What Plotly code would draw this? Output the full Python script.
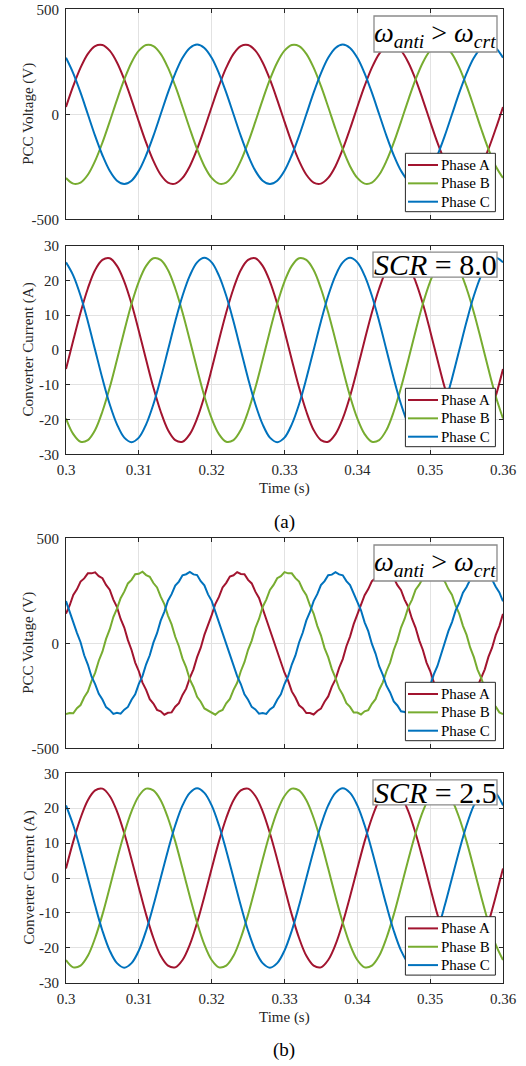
import plotly.graph_objects as go

# ---------------------------------------------------------------------------
# Data: three-phase waveforms between 0.30 s and 0.36 s
# ---------------------------------------------------------------------------
# 1 ms sampling grid (currents and the clean voltage of case a)
time_s = [
    0.300, 0.301, 0.302, 0.303, 0.304, 0.305, 0.306, 0.307, 0.308, 0.309,
    0.310, 0.311, 0.312, 0.313, 0.314, 0.315, 0.316, 0.317, 0.318, 0.319,
    0.320, 0.321, 0.322, 0.323, 0.324, 0.325, 0.326, 0.327, 0.328, 0.329,
    0.330, 0.331, 0.332, 0.333, 0.334, 0.335, 0.336, 0.337, 0.338, 0.339,
    0.340, 0.341, 0.342, 0.343, 0.344, 0.345, 0.346, 0.347, 0.348, 0.349,
    0.350, 0.351, 0.352, 0.353, 0.354, 0.355, 0.356, 0.357, 0.358, 0.359,
    0.360,
]
# 0.5 ms sampling grid (rippled voltage of case b)
time_fine_s = [
    0.3000, 0.3005, 0.3010, 0.3015, 0.3020, 0.3025, 0.3030, 0.3035, 0.3040, 0.3045,
    0.3050, 0.3055, 0.3060, 0.3065, 0.3070, 0.3075, 0.3080, 0.3085, 0.3090, 0.3095,
    0.3100, 0.3105, 0.3110, 0.3115, 0.3120, 0.3125, 0.3130, 0.3135, 0.3140, 0.3145,
    0.3150, 0.3155, 0.3160, 0.3165, 0.3170, 0.3175, 0.3180, 0.3185, 0.3190, 0.3195,
    0.3200, 0.3205, 0.3210, 0.3215, 0.3220, 0.3225, 0.3230, 0.3235, 0.3240, 0.3245,
    0.3250, 0.3255, 0.3260, 0.3265, 0.3270, 0.3275, 0.3280, 0.3285, 0.3290, 0.3295,
    0.3300, 0.3305, 0.3310, 0.3315, 0.3320, 0.3325, 0.3330, 0.3335, 0.3340, 0.3345,
    0.3350, 0.3355, 0.3360, 0.3365, 0.3370, 0.3375, 0.3380, 0.3385, 0.3390, 0.3395,
    0.3400, 0.3405, 0.3410, 0.3415, 0.3420, 0.3425, 0.3430, 0.3435, 0.3440, 0.3445,
    0.3450, 0.3455, 0.3460, 0.3465, 0.3470, 0.3475, 0.3480, 0.3485, 0.3490, 0.3495,
    0.3500, 0.3505, 0.3510, 0.3515, 0.3520, 0.3525, 0.3530, 0.3535, 0.3540, 0.3545,
    0.3550, 0.3555, 0.3560, 0.3565, 0.3570, 0.3575, 0.3580, 0.3585, 0.3590, 0.3595,
    0.3600,
]

# (a) PCC voltage, V
volt_a_phase_a = [
    35, 135, 222, 288, 325, 330, 303, 247, 166, 69, -35, -135, -222, -288, -325, -330, -303, -247, -166, -69,
    35, 135, 222, 288, 325, 330, 303, 247, 166, 69, -35, -135, -222, -288, -325, -330, -303, -247, -166, -69,
    35, 135, 222, 288, 325, 330, 303, 247, 166, 69, -35, -135, -222, -288, -325, -330, -303, -247, -166, -69,
    35,
]
volt_a_phase_b = [
    -303, -330, -325, -288, -222, -135, -35, 69, 166, 247, 303, 330, 325, 288, 222, 135, 35, -69, -166, -247,
    -303, -330, -325, -288, -222, -135, -35, 69, 166, 247, 303, 330, 325, 288, 222, 135, 35, -69, -166, -247,
    -303, -330, -325, -288, -222, -135, -35, 69, 166, 247, 303, 330, 325, 288, 222, 135, 35, -69, -166, -247,
    -303,
]
volt_a_phase_c = [
    269, 195, 103, 0, -103, -195, -269, -316, -332, -316, -269, -195, -103, 0, 103, 195, 269, 316, 332, 316,
    269, 195, 103, 0, -103, -195, -269, -316, -332, -316, -269, -195, -103, 0, 103, 195, 269, 316, 332, 316,
    269, 195, 103, 0, -103, -195, -269, -316, -332, -316, -269, -195, -103, 0, 103, 195, 269, 316, 332, 316,
    269,
]

# (a) converter current, A
curr_a_phase_a = [
    -5.5, 2.8, 10.8, 17.7, 23.0, 25.9, 26.4, 24.2, 19.7, 13.3, 5.5, -2.8, -10.8, -17.7, -23.0, -25.9, -26.4, -24.2, -19.7, -13.3,
    -5.5, 2.8, 10.8, 17.7, 23.0, 25.9, 26.4, 24.2, 19.7, 13.3, 5.5, -2.8, -10.8, -17.7, -23.0, -25.9, -26.4, -24.2, -19.7, -13.3,
    -5.5, 2.8, 10.8, 17.7, 23.0, 25.9, 26.4, 24.2, 19.7, 13.3, 5.5, -2.8, -10.8, -17.7, -23.0, -25.9, -26.4, -24.2, -19.7, -13.3,
    -5.5,
]
curr_a_phase_b = [
    -19.7, -24.2, -26.4, -25.9, -23.0, -17.7, -10.8, -2.8, 5.5, 13.3, 19.7, 24.2, 26.4, 25.9, 23.0, 17.7, 10.8, 2.8, -5.5, -13.3,
    -19.7, -24.2, -26.4, -25.9, -23.0, -17.7, -10.8, -2.8, 5.5, 13.3, 19.7, 24.2, 26.4, 25.9, 23.0, 17.7, 10.8, 2.8, -5.5, -13.3,
    -19.7, -24.2, -26.4, -25.9, -23.0, -17.7, -10.8, -2.8, 5.5, 13.3, 19.7, 24.2, 26.4, 25.9, 23.0, 17.7, 10.8, 2.8, -5.5, -13.3,
    -19.7,
]
curr_a_phase_c = [
    25.2, 21.4, 15.6, 8.2, 0.0, -8.2, -15.6, -21.4, -25.2, -26.5, -25.2, -21.4, -15.6, -8.2, 0.0, 8.2, 15.6, 21.4, 25.2, 26.5,
    25.2, 21.4, 15.6, 8.2, 0.0, -8.2, -15.6, -21.4, -25.2, -26.5, -25.2, -21.4, -15.6, -8.2, 0.0, 8.2, 15.6, 21.4, 25.2, 26.5,
    25.2, 21.4, 15.6, 8.2, 0.0, -8.2, -15.6, -21.4, -25.2, -26.5, -25.2, -21.4, -15.6, -8.2, 0.0, 8.2, 15.6, 21.4, 25.2, 26.5,
    25.2,
]

# (b) PCC voltage, V (carries a small switching ripple), on the 0.5 ms grid
volt_b_phase_a = [
    141, 180, 230, 257, 294, 309, 333, 333, 338, 320, 310, 278, 255, 208, 172, 116, 75, 15, -32, -92,
    -133, -187, -222, -266, -287, -317, -324, -340, -331, -329, -302, -285, -246, -216, -165, -124, -66, -21, 40, 83,
    134, 187, 221, 266, 288, 318, 324, 339, 330, 329, 302, 285, 246, 216, 165, 124, 66, 21, -40, -83,
    -140, -178, -229, -258, -295, -309, -332, -332, -339, -322, -311, -278, -253, -206, -172, -117, -75, -14, 32, 91,
    140, 179, 229, 258, 296, 310, 332, 331, 338, 322, 311, 277, 253, 207, 173, 117, 74, 14, -32, -92,
    -132, -186, -221, -265, -288, -319, -325, -339, -329, -329, -304, -287, -246, -214, -164, -124, -65, -21, 39, 82,
    140,
]
volt_b_phase_b = [
    -337, -332, -333, -309, -294, -257, -230, -180, -141, -83, -40, 21, 66, 125, 165, 215, 246, 285, 302, 329,
    331, 341, 325, 317, 287, 266, 222, 187, 132, 90, 31, -14, -73, -115, -172, -208, -255, -278, -310, -321,
    -331, -340, -325, -317, -286, -265, -222, -188, -133, -90, -31, 13, 73, 116, 173, 208, 254, 278, 310, 320,
    339, 333, 333, 310, 294, 256, 229, 180, 142, 83, 38, -23, -66, -123, -164, -215, -245, -285, -303, -330,
    -330, -339, -324, -318, -288, -266, -221, -186, -133, -92, -32, 14, 75, 117, 172, 207, 255, 279, 310, 320,
    338, 332, 332, 309, 295, 258, 230, 179, 140, 83, 40, -21, -66, -125, -165, -215, -246, -285, -302, -329,
    -337,
]
volt_b_phase_c = [
    201, 149, 108, 50, 5, -57, -101, -158, -194, -241, -268, -304, -317, -336, -331, -335, -316, -303, -269, -243,
    -193, -156, -100, -57, 3, 48, 108, 150, 203, 234, 275, 294, 324, 329, 340, 328, 325, 296, 276, 233,
    202, 150, 109, 49, 3, -58, -100, -156, -194, -243, -269, -303, -315, -335, -332, -336, -315, -302, -269, -243,
    -194, -157, -101, -58, 4, 50, 109, 149, 201, 234, 277, 296, 324, 327, 339, 328, 324, 296, 277, 234,
    195, 157, 100, 58, -3, -49, -109, -150, -202, -234, -277, -296, -324, -327, -339, -328, -324, -296, -277, -234,
    -201, -148, -108, -50, -4, 58, 101, 157, 193, 241, 268, 303, 317, 337, 332, 335, 315, 303, 269, 242,
    200,
]

# (b) converter current, A
curr_b_phase_a = [
    2.7, 10.5, 17.2, 22.3, 25.1, 25.6, 23.5, 19.1, 12.8, 5.3, -2.7, -10.5, -17.2, -22.3, -25.1, -25.6, -23.5, -19.1, -12.8, -5.3,
    2.7, 10.5, 17.2, 22.3, 25.1, 25.6, 23.5, 19.1, 12.8, 5.3, -2.7, -10.5, -17.2, -22.3, -25.1, -25.6, -23.5, -19.1, -12.8, -5.3,
    2.7, 10.5, 17.2, 22.3, 25.1, 25.6, 23.5, 19.1, 12.8, 5.3, -2.7, -10.5, -17.2, -22.3, -25.1, -25.6, -23.5, -19.1, -12.8, -5.3,
    2.7,
]
curr_b_phase_b = [
    -23.5, -25.6, -25.1, -22.3, -17.2, -10.5, -2.7, 5.3, 12.8, 19.1, 23.5, 25.6, 25.1, 22.3, 17.2, 10.5, 2.7, -5.3, -12.8, -19.1,
    -23.5, -25.6, -25.1, -22.3, -17.2, -10.5, -2.7, 5.3, 12.8, 19.1, 23.5, 25.6, 25.1, 22.3, 17.2, 10.5, 2.7, -5.3, -12.8, -19.1,
    -23.5, -25.6, -25.1, -22.3, -17.2, -10.5, -2.7, 5.3, 12.8, 19.1, 23.5, 25.6, 25.1, 22.3, 17.2, 10.5, 2.7, -5.3, -12.8, -19.1,
    -23.5,
]
curr_b_phase_c = [
    20.8, 15.1, 7.9, 0.0, -7.9, -15.1, -20.8, -24.4, -25.7, -24.4, -20.8, -15.1, -7.9, 0.0, 7.9, 15.1, 20.8, 24.4, 25.7, 24.4,
    20.8, 15.1, 7.9, 0.0, -7.9, -15.1, -20.8, -24.4, -25.7, -24.4, -20.8, -15.1, -7.9, 0.0, 7.9, 15.1, 20.8, 24.4, 25.7, 24.4,
    20.8, 15.1, 7.9, 0.0, -7.9, -15.1, -20.8, -24.4, -25.7, -24.4, -20.8, -15.1, -7.9, 0.0, 7.9, 15.1, 20.8, 24.4, 25.7, 24.4,
    20.8,
]

phase_names = ["Phase A", "Phase B", "Phase C"]

# Axis ticks
time_ticks = [0.30, 0.31, 0.32, 0.33, 0.34, 0.35, 0.36]
time_tick_text = ["0.3", "0.31", "0.32", "0.33", "0.34", "0.35", "0.36"]
volt_ticks = [-500, 0, 500]
volt_tick_text = ["-500", "0", "500"]
curr_ticks = [-30, -20, -10, 0, 10, 20, 30]
curr_tick_text = ["-30", "-20", "-10", "0", "10", "20", "30"]

# ---------------------------------------------------------------------------
# Styling
# ---------------------------------------------------------------------------
W, H = 526, 1066
FONT = "Liberation Serif, Times New Roman, serif"
INK = "#262626"
GRID = "#e2e2e2"
COLORS = ["#A2142F", "#77AC30", "#0072BD"]

X_LEFT, X_RIGHT = 66, 503
# (top, bottom) pixel rows of each plot area
PANEL_ROWS = [(9.3, 219.3), (245.7, 454.3), (538.3, 748.3), (773.3, 982.7)]


def fx(px):
    return px / W


def fy(px):
    return 1 - px / H


OMEGA_LABEL = "<i>ω</i><sub><i>anti</i></sub> &gt; <i>ω</i><sub><i>crt</i></sub>"

panels = [
    dict(x=time_s, series=[volt_a_phase_a, volt_a_phase_b, volt_a_phase_c], shape="spline",
         yr=[-500, 500], yt=volt_ticks, ytt=volt_tick_text, ytitle="PCC Voltage (V)",
         xlabels=False, tag=OMEGA_LABEL, tall=True),
    dict(x=time_s, series=[curr_a_phase_a, curr_a_phase_b, curr_a_phase_c], shape="spline",
         yr=[-30, 30], yt=curr_ticks, ytt=curr_tick_text, ytitle="Converter Current (A)",
         xlabels=True, tag="<i>SCR</i> = 8.0", tall=False),
    dict(x=time_fine_s, series=[volt_b_phase_a, volt_b_phase_b, volt_b_phase_c], shape="linear",
         yr=[-500, 500], yt=volt_ticks, ytt=volt_tick_text, ytitle="PCC Voltage (V)",
         xlabels=False, tag=OMEGA_LABEL, tall=True),
    dict(x=time_s, series=[curr_b_phase_a, curr_b_phase_b, curr_b_phase_c], shape="spline",
         yr=[-30, 30], yt=curr_ticks, ytt=curr_tick_text, ytitle="Converter Current (A)",
         xlabels=True, tag="<i>SCR</i> = 2.5", tall=False),
]

fig = go.Figure()
layout = dict(
    width=W, height=H,
    margin=dict(l=0, r=0, t=0, b=0),
    paper_bgcolor="white", plot_bgcolor="white",
    font=dict(family=FONT, size=15, color=INK),
    showlegend=False,
    template="none",
)
shapes, annotations = [], []


def text_note(text, x_px, y_px, size=15, color=INK, angle=0, xanchor="center"):
    annotations.append(dict(
        text=text, x=fx(x_px), y=fy(y_px), xref="paper", yref="paper",
        xanchor=xanchor, yanchor="middle", showarrow=False, textangle=angle,
        font=dict(family=FONT, size=size, color=color),
    ))


for i, (p, (top, bottom)) in enumerate(zip(panels, PANEL_ROWS), start=1):
    sfx = "" if i == 1 else str(i)
    for name, vals, color in zip(phase_names, p["series"], COLORS):
        fig.add_trace(go.Scatter(
            x=p["x"], y=vals, mode="lines", name=name,
            line=dict(color=color, width=2, shape=p["shape"]),
            xaxis="x" + sfx, yaxis="y" + sfx,
        ))

    common = dict(
        showline=True, linecolor=INK, linewidth=1, mirror="ticks",
        ticks="inside", ticklen=4, tickwidth=1, tickcolor=INK,
        showgrid=True, gridcolor=GRID, gridwidth=1, zeroline=False,
        tickfont=dict(family=FONT, size=15, color=INK), automargin=False,
    )
    layout["xaxis" + sfx] = dict(
        common, domain=[fx(X_LEFT), fx(X_RIGHT)], anchor="y" + sfx,
        range=[0.3, 0.36], tickmode="array", tickvals=time_ticks, ticktext=time_tick_text,
        showticklabels=p["xlabels"], ticklabelstandoff=2,
    )
    layout["yaxis" + sfx] = dict(
        common, domain=[fy(bottom), fy(top)], anchor="x" + sfx,
        range=p["yr"], tickmode="array", tickvals=p["yt"], ticktext=p["ytt"],
        ticklabelstandoff=3,
    )

    # y-axis title
    text_note(p["ytitle"], 28.5, (top + bottom) / 2, angle=-90)

    # legend box in the lower-right corner
    lx1, ly1 = X_RIGHT - 7.6, bottom - 7.6
    lx0, ly0 = lx1 - 90, ly1 - 58.4
    shapes.append(dict(
        type="rect", xref="paper", yref="paper",
        x0=fx(lx0), x1=fx(lx1), y0=fy(ly1), y1=fy(ly0),
        fillcolor="white", line=dict(color=INK, width=1), layer="above",
    ))
    for k, (name, color) in enumerate(zip(phase_names, COLORS)):
        row_y = ly0 + 11.7 + 18.35 * k
        shapes.append(dict(
            type="line", xref="paper", yref="paper",
            x0=fx(lx0 + 2.6), x1=fx(lx0 + 32.6), y0=fy(row_y), y1=fy(row_y),
            line=dict(color=color, width=2), layer="above",
        ))
        text_note(name, lx0 + 33.3, row_y, color="black", xanchor="left")

    # condition label box in the upper-right corner
    if p["tall"]:
        bx0, bx1, by0, by1 = 374, 497, top + 6.7, top + 42.7
        tag_size = 28
    else:
        bx0, bx1, by0, by1 = 373, 497, top + 6.5, top + 31.5
        tag_size = 30
    shapes.append(dict(
        type="rect", xref="paper", yref="paper",
        x0=fx(bx0), x1=fx(bx1), y0=fy(by1), y1=fy(by0),
        fillcolor="white", line=dict(color="#8a8a8a", width=1.3), layer="above",
    ))
    text_note(p["tag"], (bx0 + bx1) / 2, (by0 + by1) / 2, size=tag_size, color="black")

    if p["xlabels"]:
        text_note("Time (s)", (X_LEFT + X_RIGHT) / 2, bottom + 34.7)

# sub-figure captions
text_note("(a)", 284, 521.7, size=19, color="black")
text_note("(b)", 284, 1050, size=19, color="black")

layout["shapes"] = shapes
layout["annotations"] = annotations
fig.update_layout(**layout)

fig.write_html("out.html", config={"displayModeBar": False})
